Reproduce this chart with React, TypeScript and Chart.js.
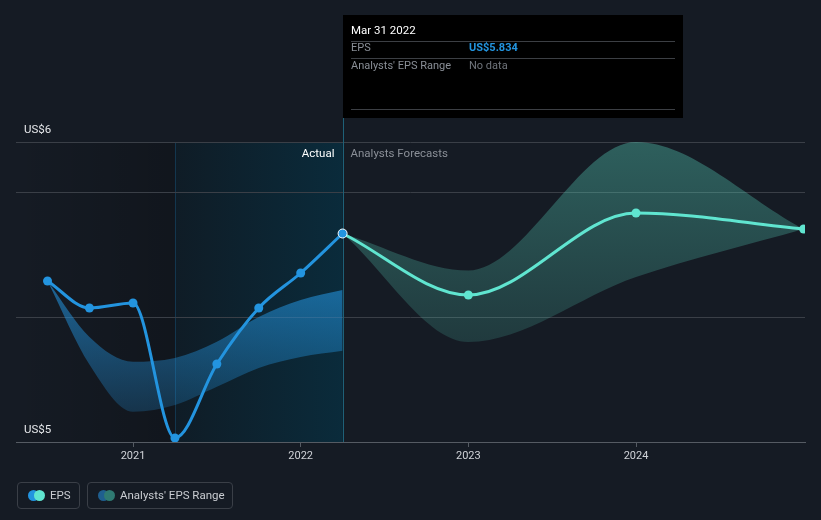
import React, { useEffect, useRef } from "react";
import { Chart, registerables } from "chart.js";

Chart.register(...registerables);

// ---- data ----
const actualDates = [2020.49, 2020.74, 2021.0, 2021.25, 2021.5, 2021.75, 2022.0, 2022.25];
const actualEps = [5.644, 5.536, 5.556, 5.016, 5.312, 5.536, 5.676, 5.834];
const pastRangeHigh = [5.644, 5.42, 5.321, 5.336, 5.401, 5.5, 5.568, 5.608];
const pastRangeLow = [5.644, 5.31, 5.121, 5.148, 5.221, 5.296, 5.34, 5.365];

const forecastDates = [2022.25, 2023.0, 2024.0, 2025.0];
const forecastEps = [5.834, 5.588, 5.916, 5.852];
const forecastHigh = [5.834, 5.686, 6.2, 5.852];
const forecastLow = [5.834, 5.4, 5.66, 5.852];

const xTickValues = [2021, 2022, 2023, 2024];
const yTickValues = [5, 5.5, 6, 6.2];
const yTickLabels: Record<string, string> = { "5": "US$5", "6.2": "US$6" };

const shadeStart = 2021.25;
const shadeEnd = 2022.25;

const tooltipTitle = "Mar 31 2022";
const tooltipRows = [
  { label: "EPS", value: "US$5.834", color: "#2394df", bold: true },
  { label: "Analysts' EPS Range", value: "No data", color: "#70757c", bold: false },
];

// ---- styles ----
const BG = "#151b24";
const BLUE = "#2394df";
const TEAL = "#60e5d0";
const FONT = "Roboto, 'Noto Sans', sans-serif";

const toXY = (xs: number[], ys: number[]) => xs.map((x, i) => ({ x, y: ys[i] }));

const bgPlugin = {
  id: "bgPlugin",
  beforeDraw(chart: any) {
    const { ctx, chartArea, scales } = chart;
    const { left, top, bottom } = chartArea;
    const x = scales.x;
    ctx.save();
    ctx.fillStyle = BG;
    ctx.fillRect(0, 0, chart.width, chart.height);
    const xs = x.getPixelForValue(shadeStart);
    const xe = x.getPixelForValue(shadeEnd);
    let g = ctx.createLinearGradient(left, 0, xs, 0);
    g.addColorStop(0, "rgba(0,0,0,0)");
    g.addColorStop(1, "rgba(0,0,0,0.2)");
    ctx.fillStyle = g;
    ctx.fillRect(left, top, xs - left, bottom - top);
    g = ctx.createLinearGradient(xs, 0, xe, 0);
    g.addColorStop(0, "#0f1c26");
    g.addColorStop(1, "#0a2b3b");
    ctx.fillStyle = g;
    ctx.fillRect(xs, top, xe - xs, bottom - top);
    ctx.strokeStyle = "rgba(35,148,223,0.22)";
    ctx.lineWidth = 1;
    ctx.beginPath();
    ctx.moveTo(Math.round(xs) + 0.5, top);
    ctx.lineTo(Math.round(xs) + 0.5, bottom);
    ctx.stroke();
    ctx.restore();
  },
  beforeDatasetsDraw(chart: any) {
    const { ctx, chartArea, scales } = chart;
    const xe = Math.round(scales.x.getPixelForValue(shadeEnd)) + 0.5;
    ctx.save();
    ctx.strokeStyle = "#1e6178";
    ctx.lineWidth = 1;
    ctx.beginPath();
    ctx.moveTo(xe, 118);
    ctx.lineTo(xe, chartArea.bottom);
    ctx.stroke();
    ctx.font = `11.5px ${FONT}`;
    ctx.textBaseline = "middle";
    ctx.textAlign = "right";
    ctx.fillStyle = "#ffffff";
    ctx.fillText("Actual", xe - 9, 154);
    ctx.textAlign = "left";
    ctx.fillStyle = "#8a8f97";
    ctx.fillText("Analysts Forecasts", xe + 7, 154);
    ctx.restore();
  },
  afterDraw(chart: any) {
    const { ctx, scales } = chart;
    const xl = Math.round(scales.x.getPixelForValue(shadeEnd));
    ctx.save();
    ctx.fillStyle = "#000000";
    ctx.fillRect(xl, 15, 340, 103);
    ctx.textBaseline = "middle";
    ctx.textAlign = "left";
    ctx.font = `11.5px ${FONT}`;
    ctx.fillStyle = "#ffffff";
    ctx.fillText(tooltipTitle, xl + 8, 31);
    ctx.strokeStyle = "#3c3f44";
    ctx.lineWidth = 1;
    const hline = (y: number) => {
      ctx.beginPath();
      ctx.moveTo(xl + 8, y + 0.5);
      ctx.lineTo(xl + 332, y + 0.5);
      ctx.stroke();
    };
    hline(41);
    tooltipRows.forEach((r, i) => {
      const y = 48 + i * 18;
      ctx.font = `11px ${FONT}`;
      ctx.fillStyle = "#8a8f97";
      ctx.fillText(r.label, xl + 8, y);
      ctx.font = `${r.bold ? "bold " : ""}11px ${FONT}`;
      ctx.fillStyle = r.color;
      ctx.fillText(r.value, xl + 126, y);
      if (i === 0) hline(58);
    });
    hline(109);
    ctx.restore();
  },
};

const pastBandColor = (c: any) => {
  const ca = c.chart.chartArea;
  if (!ca) return "rgba(35,148,223,0.4)";
  const g = c.chart.ctx.createLinearGradient(0, ca.top, 0, ca.bottom);
  g.addColorStop(0, "rgba(35,148,223,0.85)");
  g.addColorStop(0.36, "rgba(35,148,223,0.7)");
  g.addColorStop(1, "rgba(35,148,223,0.14)");
  return g;
};

const foreBandColor = (c: any) => {
  const ca = c.chart.chartArea;
  if (!ca) return "rgba(88,212,190,0.25)";
  const g = c.chart.ctx.createLinearGradient(0, ca.top, 0, ca.bottom);
  g.addColorStop(0, "rgba(88,212,190,0.37)");
  g.addColorStop(0.66, "rgba(88,212,190,0.17)");
  g.addColorStop(1, "rgba(88,212,190,0.1)");
  return g;
};

function LegendItem({ left, width, c1, c2, text }: any) {
  return (
    <div
      style={{
        position: "absolute",
        left,
        top: 482,
        width,
        height: 27,
        boxSizing: "border-box",
        border: "1px solid #3a3f47",
        borderRadius: 4,
        fontFamily: FONT,
        fontSize: 11.5,
        color: "#c9ccd1",
      }}
    >
      <span style={{ position: "absolute", left: 10, top: 7, width: 11, height: 11, borderRadius: "50%", background: c1 }} />
      <span style={{ position: "absolute", left: 16, top: 7, width: 11, height: 11, borderRadius: "50%", background: c2 }} />
      <span style={{ position: "absolute", left: 32, top: 5, lineHeight: "15px", whiteSpace: "nowrap" }}>{text}</span>
    </div>
  );
}

export default function App() {
  const ref = useRef<HTMLCanvasElement | null>(null);
  useEffect(() => {
    if (!ref.current) return;
    Chart.defaults.font.family = FONT;
    const chart = new Chart(ref.current, {
      type: "line",
      data: {
        datasets: [
          {
            label: "EPS",
            data: toXY(actualDates, actualEps),
            borderColor: BLUE,
            backgroundColor: BLUE,
            borderWidth: 3,
            pointRadius: 4.5,
            pointBackgroundColor: BLUE,
            pointBorderColor: actualDates.map((_, i) => (i === actualDates.length - 1 ? "#ffffff" : BLUE)),
            pointBorderWidth: actualDates.map((_, i) => (i === actualDates.length - 1 ? 1 : 0)),
            cubicInterpolationMode: "monotone",
            fill: false,
            order: 1,
          },
          {
            label: "EPS forecast",
            data: toXY(forecastDates, forecastEps),
            borderColor: TEAL,
            backgroundColor: TEAL,
            borderWidth: 3,
            pointRadius: forecastDates.map((_, i) => (i === 0 ? 0 : 4.5)),
            pointBorderWidth: 0,
            cubicInterpolationMode: "monotone",
            fill: false,
            order: 2,
          },
          {
            label: "Past range high",
            data: toXY(actualDates, pastRangeHigh),
            borderWidth: 0,
            borderColor: "rgba(0,0,0,0)",
            pointRadius: 0,
            backgroundColor: pastBandColor,
            cubicInterpolationMode: "monotone",
            fill: "+1",
            order: 5,
          },
          {
            label: "Past range low",
            data: toXY(actualDates, pastRangeLow),
            borderWidth: 0,
            borderColor: "rgba(0,0,0,0)",
            pointRadius: 0,
            cubicInterpolationMode: "monotone",
            fill: false,
            order: 6,
          },
          {
            label: "Forecast range high",
            data: toXY(forecastDates, forecastHigh),
            borderWidth: 0,
            borderColor: "rgba(0,0,0,0)",
            pointRadius: 0,
            backgroundColor: foreBandColor,
            cubicInterpolationMode: "monotone",
            fill: "+1",
            order: 3,
          },
          {
            label: "Forecast range low",
            data: toXY(forecastDates, forecastLow),
            borderWidth: 0,
            borderColor: "rgba(0,0,0,0)",
            pointRadius: 0,
            cubicInterpolationMode: "monotone",
            fill: false,
            order: 4,
          },
        ],
      },
      options: {
        animation: false,
        responsive: false,
        events: [],
        layout: { padding: { left: 16, right: 16, top: 142, bottom: 48 } },
        plugins: { legend: { display: false }, tooltip: { enabled: false } },
        scales: {
          x: {
            type: "linear",
            min: 2020.302,
            max: 2025.008,
            afterBuildTicks: (s: any) => {
              s.ticks = xTickValues.map((v) => ({ value: v }));
            },
            afterFit: (s: any) => {
              s.height = 30;
            },
            grid: { drawOnChartArea: false, drawTicks: true, tickLength: 5, color: "#555b63" },
            border: { display: true, color: "#555b63" },
            ticks: { color: "#d0d3d8", font: { size: 11 }, padding: 3, callback: (v: any) => String(v) },
          },
          y: {
            type: "linear",
            min: 5,
            max: 6.2,
            afterBuildTicks: (s: any) => {
              s.ticks = yTickValues.map((v) => ({ value: v }));
            },
            afterFit: (s: any) => {
              s.width = 0;
            },
            grid: { color: "#3a3f47", drawTicks: false },
            border: { display: false },
            ticks: {
              mirror: true,
              padding: 8,
              labelOffset: -12,
              color: "#e6e8eb",
              font: { size: 11.5 },
              callback: (v: any) => yTickLabels[String(v)] ?? "",
            },
          },
        },
      },
      plugins: [bgPlugin],
    } as any);
    return () => chart.destroy();
  }, []);

  return (
    <div style={{ position: "fixed", left: 0, top: 0, width: 821, height: 520, background: BG, overflow: "hidden" }}>
      <canvas ref={ref} width={821} height={520} style={{ position: "absolute", left: 0, top: 0, width: 821, height: 520 }} />
      <LegendItem left={17} width={63} c1={BLUE} c2={TEAL} text="EPS" />
      <LegendItem left={87} width={146} c1="#1f5f8f" c2="#2f7a72" text="Analysts' EPS Range" />
    </div>
  );
}
